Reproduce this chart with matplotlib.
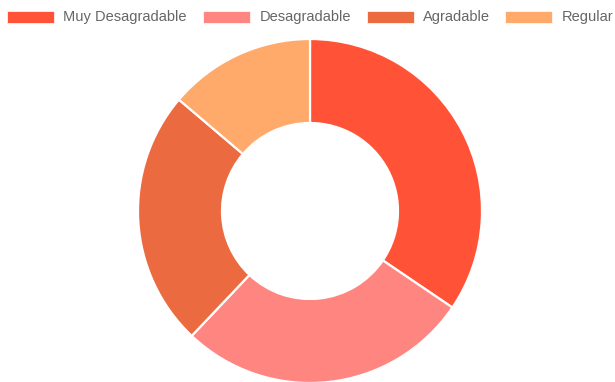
import matplotlib
matplotlib.use("Agg")
import matplotlib.pyplot as plt
from matplotlib.patches import Rectangle

labels = ["Muy Desagradable", "Desagradable", "Agradable", "Regular"]
values = [10, 8, 7, 4]
colors = ["#FF5236", "#FF8680", "#EC6A40", "#FFAA6B"]

W, H = 615, 382
fig = plt.figure(figsize=(W / 100, H / 100), dpi=100)
ax = fig.add_axes([0, 0, 1, 1])

# doughnut
cx, cy, r_out, r_in = 310, H - 211, 172, 88
ax.pie(values, colors=colors, startangle=90, counterclock=False,
       center=(cx, cy), radius=r_out, frame=True,
       wedgeprops=dict(width=r_out - r_in, edgecolor="white", linewidth=1.6))
ax.set_xlim(0, W)
ax.set_ylim(0, H)
ax.set_aspect("equal")
ax.axis("off")

# legend row
box_x = [7, 203, 367, 505]
text_x = [63, 260, 423, 562]
ly = H - 17
for bx, tx, lab, col in zip(box_x, text_x, labels, colors):
    ax.add_patch(Rectangle((bx, ly - 6), 47, 12, facecolor=col,
                           edgecolor="white", linewidth=0.5))
    ax.text(tx, ly, lab, fontsize=10.5, color="#666666", va="center", ha="left",
            family="Liberation Sans")

fig.savefig("out.png", dpi=100)
